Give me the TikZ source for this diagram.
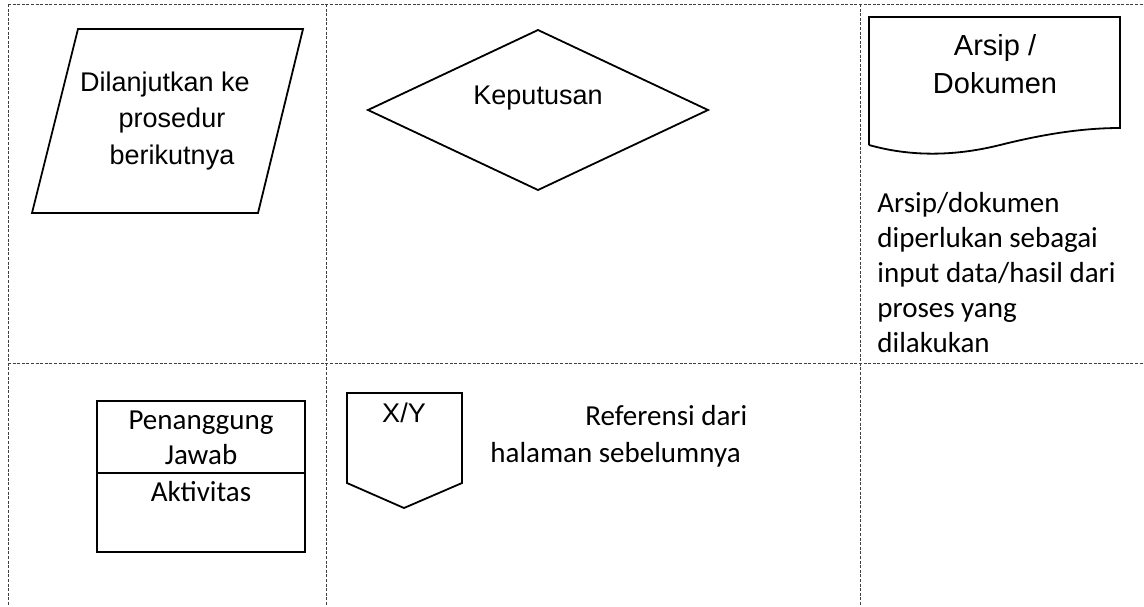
\documentclass[tikz,border=0pt]{standalone}
\usepackage{fontspec}
\setmainfont{Liberation Sans}
\newfontfamily\calibri{Carlito}
\begin{document}
\begin{tikzpicture}[x=0.5pt,y=-0.5pt,
  sel/.style={dash pattern=on 1.5pt off 0.8pt,line width=0.5pt,black!75},
  bentuk/.style={line width=0.9pt},
  arial/.style={font=\fontsize{13.5}{18.25}\selectfont,align=center,inner sep=0pt},
  calib/.style={font=\calibri\fontsize{14.5}{17.5}\selectfont,inner sep=0pt}]
\useasboundingbox (0,0) rectangle (1144,606);
% garis tabel
\draw[sel](8,4)--(1144,4);
\draw[sel](8,363)--(1144,363);
\draw[sel](8,4)--(8,606);
\draw[sel](326,4)--(326,606);
\draw[sel](860,4)--(860,606);

% lanjut ke prosedur
\draw[bentuk](78,29)--(303,29)--(258,213)--(32,213)--cycle;
\node[arial](lanjut) at (172,121){Dilanjutkan ke\hspace*{7pt}\\prosedur\\berikutnya};

% keputusan
\draw[bentuk](368,110)--(538,30)--(708,110)--(538,190)--cycle;
\node[arial](putus) at (538,98){Keputusan};

% dokumen
\draw[bentuk](869,145)--(869,17)--(1120,17)--(1120,128)
   .. controls (1080,128) and (1040,135) .. (1000,145)
   .. controls (960,155) and (915,158) .. (869,145);
\node[arial,font=\fontsize{14.5}{19}\selectfont](arsip) at (995,64){Arsip /\\Dokumen};
\node[calib,align=left,anchor=west](ket) at (877,273){Arsip/dokumen\\diperlukan sebagai\\input data/hasil dari\\proses yang\\dilakukan};

% penanggung jawab
\draw[line width=1.3pt](97,401) rectangle (305,552);
\draw[line width=1.3pt](97,473)--(305,473);
\node[calib,align=center](pj) at (201,437.5){Penanggung\\Jawab};
\node[calib](akt) at (201,492){Aktivitas};

% referensi halaman
\draw[bentuk](347,393)--(462,393)--(462,483)--(404,508)--(347,483)--cycle;
\node[arial](xy) at (404,413){X/Y};
\node[calib,align=left,anchor=west,font=\calibri\fontsize{14.5}{18.5}\selectfont](ref) at (490,436.5){\hspace*{47.5pt}Referensi dari\\halaman sebelumnya};
\end{tikzpicture}
\end{document}
